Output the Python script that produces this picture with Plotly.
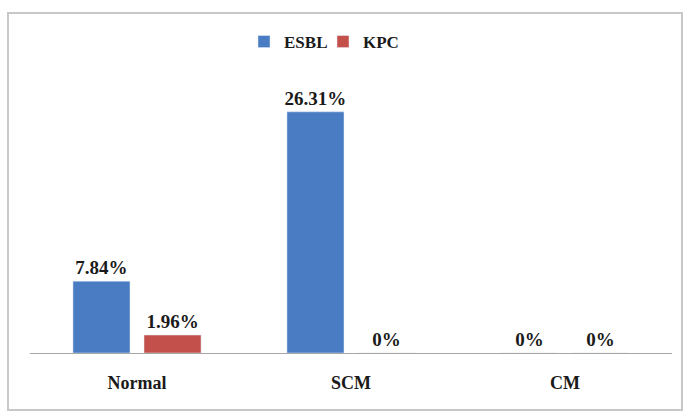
import plotly.graph_objects as go

categories = ["Normal", "SCM", "CM"]
esbl = [7.84, 26.31, 0]
kpc = [1.96, 0, 0]
esbl_labels = ["7.84%", "26.31%", "0%"]
kpc_labels = ["1.96%", "0%", "0%"]

W, H = 689, 411
ml, mr, mt, mb = 30, 17, 78, 58
pw, ph = W - ml - mr, H - mt - mb

font_fam = "Liberation Serif"

def bold(lst):
    return ["<b>" + s + "</b>" for s in lst]

def px_x(p):
    return (p - ml) / pw

def px_y(p):
    return (H - mb - p) / ph

fig = go.Figure()
fig.add_trace(go.Bar(
    x=categories, y=esbl, name="<b>ESBL</b>", marker_color="#4A7CC4",
    text=bold(esbl_labels), textposition="outside", cliponaxis=False,
    constraintext="none", legend="legend",
    textfont=dict(family=font_fam, size=19, color="#1a1a1a"),
))
fig.add_trace(go.Bar(
    x=categories, y=kpc, name="<b>KPC</b>", marker_color="#C4504C",
    text=bold(kpc_labels), textposition="outside", cliponaxis=False,
    constraintext="none", legend="legend2",
    textfont=dict(family=font_fam, size=19, color="#1a1a1a"),
))

fig.add_shape(type="rect", xref="paper", yref="paper",
              x0=px_x(8), x1=px_x(682), y0=px_y(410), y1=px_y(13),
              line=dict(color="#c8c8c8", width=2), fillcolor="rgba(0,0,0,0)")

legend_common = dict(orientation="h", xanchor="left", y=px_y(42), yanchor="middle",
                     font=dict(family=font_fam, size=17, color="#1a1a1a"),
                     itemwidth=30, bgcolor="rgba(0,0,0,0)")

fig.update_layout(
    width=W, height=H,
    margin=dict(l=ml, r=mr, t=mt, b=mb),
    paper_bgcolor="white", plot_bgcolor="white",
    barmode="group", bargap=0.336, bargroupgap=0.197,
    showlegend=True,
    legend=dict(x=px_x(244), **legend_common),
    legend2=dict(x=px_x(323), **legend_common),
    font=dict(family=font_fam),
)
fig.update_xaxes(showline=True, linecolor="#a6a6a6", linewidth=1,
                 ticks="outside", ticklen=13, tickcolor="rgba(0,0,0,0)",
                 tickvals=categories, ticktext=bold(categories),
                 tickfont=dict(family=font_fam, size=18, color="#1a1a1a"),
                 showgrid=False)
fig.update_yaxes(range=[0, 30], visible=False, showgrid=False, zeroline=False)

fig.write_html("out.html")
